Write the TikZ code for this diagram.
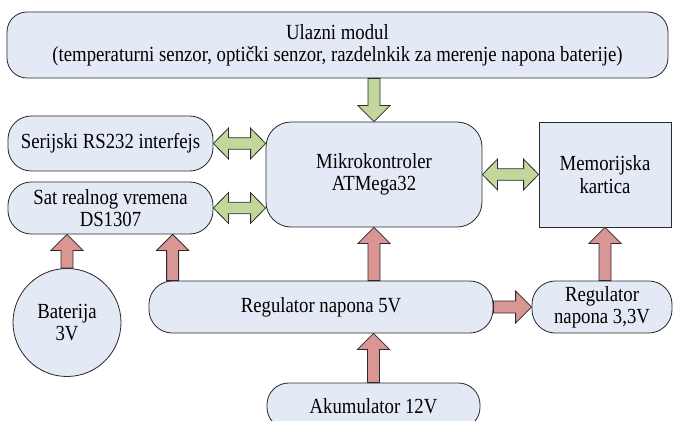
\documentclass[tikz,border=0pt]{standalone}
\usepackage{fontspec}
\setmainfont{Liberation Serif}[FakeStretch=0.87]
\usepackage{xcolor}
\usepackage{tikz}
\usetikzlibrary{positioning,calc,shapes.geometric}
\definecolor{plava}{HTML}{E4EAF5}
\definecolor{zelena}{HTML}{C3D69B}
\definecolor{crvena}{HTML}{D99694}
\definecolor{linija}{HTML}{2B2B2B}

% block arrow: style, from, to
\newcommand\strelica[3]{%
  \coordinate (s-a) at (#2);
  \coordinate (s-b) at (#3);
  \coordinate (s-h) at ($(s-b)!4.8mm!(s-a)$);
  \draw[#1] ($(s-a)!1.8mm!90:(s-b)$) -- ($(s-h)!1.8mm!90:(s-b)$)
    -- ($(s-h)!4.8mm!90:(s-b)$) -- (s-b)
    -- ($(s-h)!4.8mm!-90:(s-b)$) -- ($(s-h)!1.8mm!-90:(s-b)$)
    -- ($(s-a)!1.8mm!-90:(s-b)$) -- cycle;
}
% double block arrow: style, from, to
\newcommand\dvostruka[3]{%
  \coordinate (s-a) at (#2);
  \coordinate (s-b) at (#3);
  \coordinate (s-g) at ($(s-a)!4.5mm!(s-b)$);
  \coordinate (s-h) at ($(s-b)!4.5mm!(s-a)$);
  \draw[#1] (s-a) -- ($(s-g)!4.6mm!90:(s-b)$) -- ($(s-g)!1.7mm!90:(s-b)$)
    -- ($(s-h)!1.7mm!90:(s-b)$) -- ($(s-h)!4.6mm!90:(s-b)$) -- (s-b)
    -- ($(s-h)!4.6mm!-90:(s-b)$) -- ($(s-h)!1.7mm!-90:(s-b)$)
    -- ($(s-g)!1.7mm!-90:(s-b)$) -- ($(s-g)!4.6mm!-90:(s-b)$) -- cycle;
}

\begin{document}
\begin{tikzpicture}[
  x=0.3mm,y=-0.3mm,
  font=\fontsize{18.4}{19}\selectfont,
  blok/.style={draw=linija,fill=plava,line width=0.7pt,align=center,inner sep=0pt},
  kaps/.style={blok,rounded corners=7mm,minimum height=15.6mm},
  kutija/.style={blok,minimum height=31.5mm},
  zel/.style={draw=linija,fill=zelena,line width=0.7pt,line join=miter},
  crv/.style={draw=linija,fill=crvena,line width=0.7pt,line join=miter}
]
\useasboundingbox (0,0) rectangle (673,421);

% ---- top: input module
\node[blok,rounded corners=6mm,minimum width=198.3mm,minimum height=19.8mm] (ulazni) at (337.5,45)
  {Ulazni modul\\(temperaturni senzor, optički senzor, razdelnkik za merenje napona baterije)};

% ---- middle row
\node[kaps,minimum width=61.5mm,minimum height=16.5mm] (serijski) at (110.5,143.5) {Serijski RS232 interfejs};
\node[kaps,minimum width=61.5mm] (sat) at (110.5,208) {Sat realnog vremena\\DS1307};
\node[kutija,rounded corners=7.5mm,minimum width=64.8mm] (mikro) at (374,174.5) {Mikrokontroler\\ATMega32};
\node[kutija,minimum width=39.6mm] (memorija) at (605,174.5) {Memorijska\\kartica};

% ---- power supply
\node[blok,circle,minimum size=32.4mm] (baterija) at (67,322.5) {Baterija\\3V};
\node[kaps,minimum width=103.2mm] (reg5) at (321,307) {Regulator napona 5V};
\node[kaps,minimum width=42mm] (reg33) at (602,307) {Regulator\\napona 3,3V};
\node[kaps,rounded corners=6.5mm,minimum width=63.9mm,minimum height=13.8mm] (akumulator) at (373.5,406) {Akumulator 12V};

% ---- data arrows
\strelica{zel}{mikro.north |- ulazni.south}{mikro.north}
\dvostruka{zel}{serijski.east}{serijski.east -| mikro.west}
\dvostruka{zel}{sat.east}{sat.east -| mikro.west}
\dvostruka{zel}{mikro.east}{memorija.west}

% ---- supply arrows
\coordinate (r5sat) at ($(reg5.north west)+(24,0)$);
\strelica{crv}{baterija.north}{baterija.north |- sat.south}
\strelica{crv}{r5sat}{r5sat |- sat.south}
\strelica{crv}{mikro.south |- reg5.north}{mikro.south}
\strelica{crv}{reg5.east}{reg33.west}
\strelica{crv}{memorija.south |- reg33.north}{memorija.south}
\strelica{crv}{akumulator.north}{akumulator.north |- reg5.south}
\end{tikzpicture}
\end{document}
